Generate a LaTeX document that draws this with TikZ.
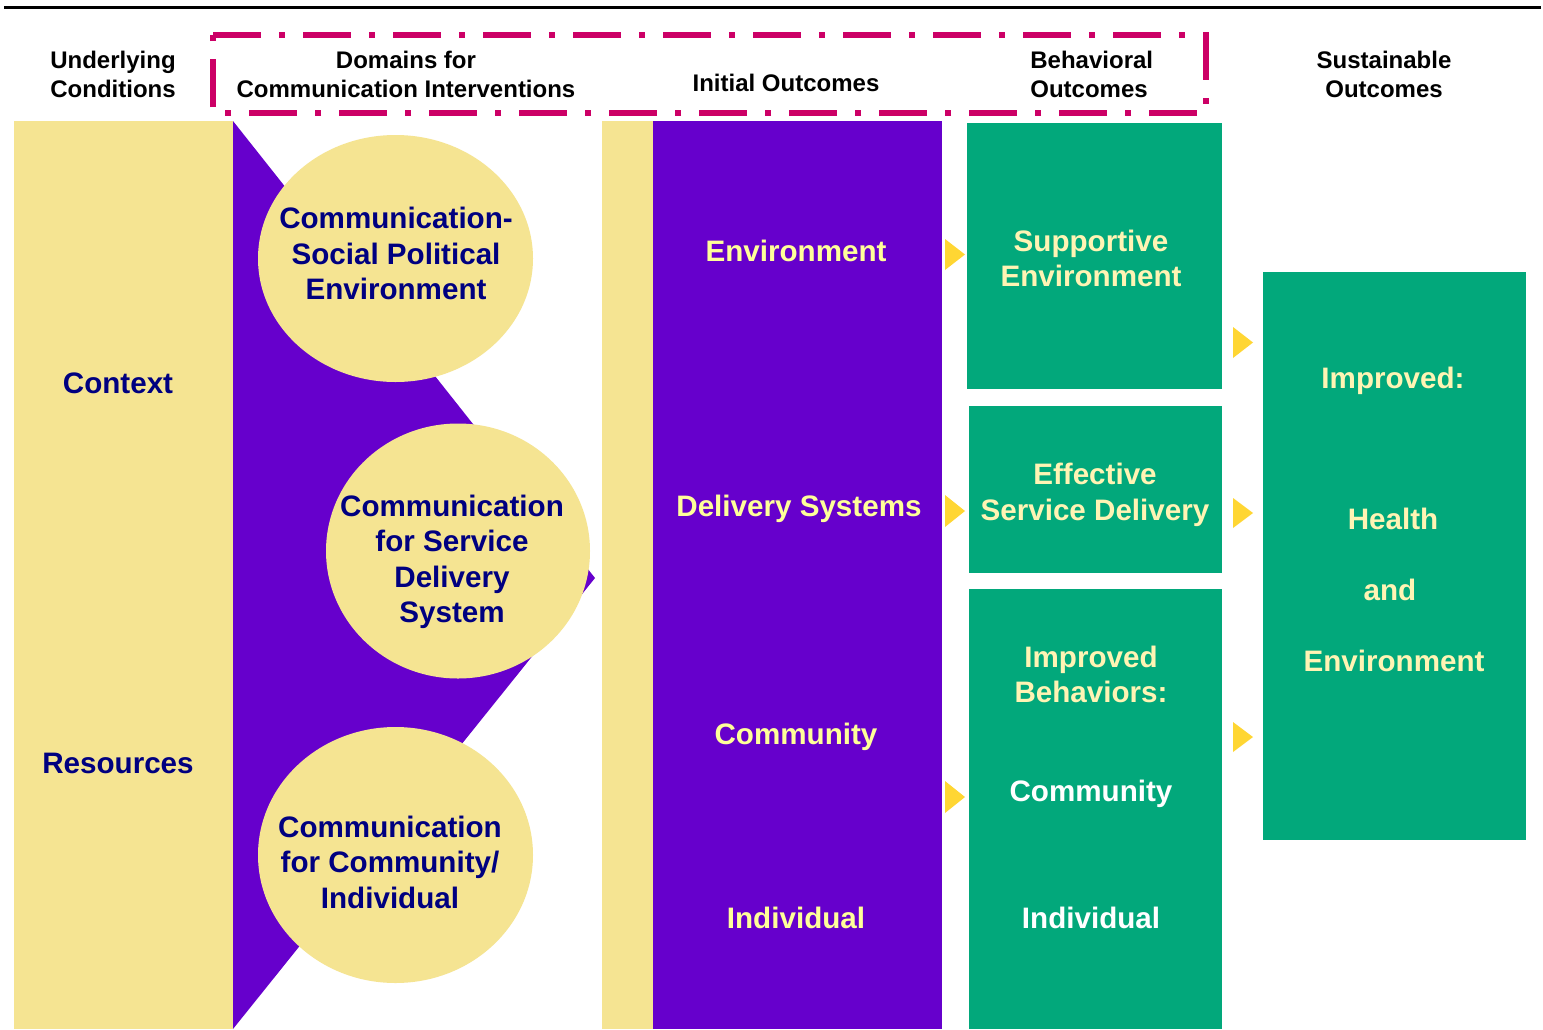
\documentclass[tikz,border=0pt]{standalone}
\usepackage{fontspec}
\setmainfont{Liberation Sans}
\usetikzlibrary{shapes.geometric}
\definecolor{paleyel}{HTML}{F5E492}
\definecolor{purp}{HTML}{6600CC}
\definecolor{grn}{HTML}{02A87B}
\definecolor{navy}{HTML}{000080}
\definecolor{cream}{HTML}{FFF4B4}
\definecolor{lyel}{HTML}{FFFF99}
\definecolor{mag}{HTML}{CC0066}
\definecolor{arr}{HTML}{FFD633}
\begin{document}
\begin{tikzpicture}[x=0.5pt,y=-0.5pt,
  main/.style={font=\fontsize{14.8}{17.75}\selectfont\bfseries, align=center, inner sep=0pt},
  head/.style={font=\fontsize{12}{14.5}\selectfont\bfseries, align=center, inner sep=0pt, text=black},
  blob/.style={ellipse, fill=paleyel, inner sep=0pt},
  tip/.style={fill=arr}]
\useasboundingbox (0,0) rectangle (1543,1029);
\fill[white] (0,0) rectangle (1543,1029);
\draw[line width=1.5pt] (4,7) -- (1541,7);

% header
\node[head] (hUC) at (113,74) {Underlying\\Conditions};
\node[head] (hDom) at (406,74) {Domains for\\Communication Interventions};
\node[head] (hIO) at (786,83) {Initial Outcomes};
\node[head, align=left, anchor=west] (hBO) at (1030,74) {Behavioral\\Outcomes};
\node[head] (hSO) at (1384,74) {Sustainable\\Outcomes};
\draw[mag, line width=2.8pt, dash pattern=on 24pt off 9pt on 3pt off 9pt]
  (213,35) -- (1206,35) -- (1206,113) -- (213,113) -- cycle;

% underlying conditions
\fill[fill=paleyel] (14,121) rectangle (233,1029);
\node[main, text=navy] (ctx) at (118,383) {Context};
\node[main, text=navy] (res) at (118,763) {Resources};

% domains
\fill[fill=purp] (233,121) -- (595,578) -- (233,1029) -- cycle;
\node[blob, minimum width=137.5pt, minimum height=123.5pt] (c1) at (395.5,258.5) {};
\node[blob, minimum width=132pt, minimum height=127.5pt] (c2) at (458,551) {};
\node[blob, minimum width=137.5pt, minimum height=128pt] (c3) at (395.5,855) {};
\node[main, text=navy] (t1) at (396,253.5) {Communication-\\Social Political\\Environment};
\node[main, text=navy] (t2) at (452,562) {Communication\\for Service\\Delivery\\System};
\node[main, text=navy] (t3) at (390,862) {Communication\\for Community/\\Individual};

% initial outcomes
\fill[fill=paleyel] (602,121) rectangle (653,1029);
\fill[fill=purp] (653,121) rectangle (942,1029);
\node[main, text=lyel] (iEnv) at (796,251) {Environment};
\node[main, text=lyel] (iDel) at (799,509) {Delivery Systems};
\node[main, text=lyel] (iCom) at (796,737) {Community};
\node[main, text=lyel] (iInd) at (796,918) {Individual};

% behavioral outcomes
\fill[fill=grn] (967,123) rectangle (1222,389);
\fill[fill=grn] (969,406) rectangle (1222,573);
\fill[fill=grn] (969,589) rectangle (1222,1029);
\node[main, text=cream] (bSup) at (1091,258.5) {Supportive\\Environment};
\node[main, text=cream] (bEff) at (1095,495) {Effective\\Service Delivery};
\node[main, text=cream] (bImp) at (1091,674.5) {Improved\\Behaviors:};
\node[main, text=white] (bCom) at (1091,794) {Community};
\node[main, text=white] (bInd) at (1091,918) {Individual};

% sustainable outcomes
\fill[fill=grn] (1263,272) rectangle (1526,840);
\node[main, text=cream] (sImp) at (1393,381) {Improved:};
\node[main, text=cream] (sHea) at (1393,519) {Health};
\node[main, text=cream] (sAnd) at (1390,590) {and};
\node[main, text=cream] (sEnv) at (1394,661) {Environment};

% arrowheads
\fill[tip] (945,239) -- (965,254.5) -- (945,270) -- cycle;
\fill[tip] (945,495) -- (965,511) -- (945,527) -- cycle;
\fill[tip] (945,781) -- (965,797) -- (945,813) -- cycle;
\fill[tip] (1233,327) -- (1253,342.5) -- (1233,358) -- cycle;
\fill[tip] (1233,498) -- (1253,513) -- (1233,528) -- cycle;
\fill[tip] (1233,722) -- (1253,737) -- (1233,752) -- cycle;
\end{tikzpicture}
\end{document}
